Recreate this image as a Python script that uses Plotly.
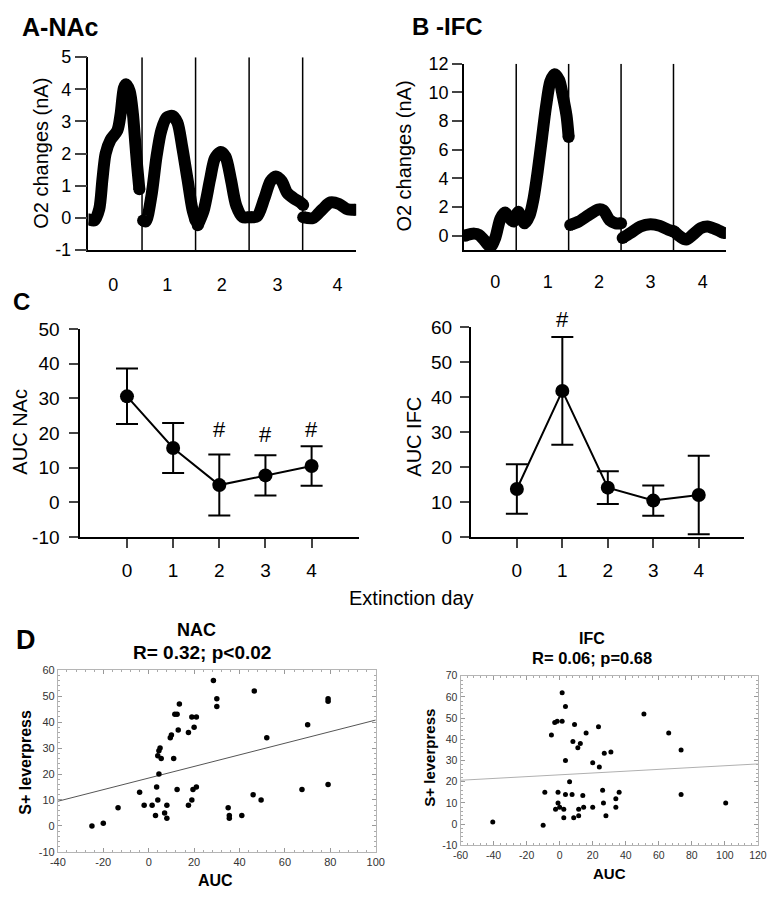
import plotly.graph_objects as go

W, H = 776, 899
FONT = "Arial, Liberation Sans, sans-serif"

# ---------------- data ----------------
day_labels = ['0', '1', '2', '3', '4']
days = [0, 1, 2, 3, 4]
boundaries = [0.5, 1.5, 2.5, 3.5]

# Panel A: NAc O2 traces (one list per extinction day)
nac_x = [
    [-0.48, -0.39, -0.30, -0.24, -0.18, -0.09, 0.04, 0.10, 0.16, 0.20, 0.27, 0.33, 0.37, 0.41, 0.45],
    [0.52, 0.57, 0.675, 0.77, 0.86, 0.96, 1.07, 1.16, 1.25, 1.35, 1.44, 1.5],
    [1.54, 1.65, 1.77, 1.86, 1.97, 2.06, 2.16, 2.26, 2.38, 2.5],
    [2.53, 2.65, 2.78, 2.9, 3.0, 3.11, 3.21, 3.34, 3.46, 3.51],
    [3.51, 3.69, 3.87, 4.02, 4.18, 4.33, 4.48],
]
nac_y = [
    [-0.05, -0.08, 0.27, 1.19, 2.0, 2.42, 2.72, 3.23, 4.04, 4.16, 3.94, 3.23, 2.41, 1.6, 0.89],
    [-0.08, -0.11, 0.68, 1.9, 2.72, 3.12, 3.17, 2.97, 2.21, 1.19, 0.27, -0.08],
    [-0.23, 0.22, 1.19, 1.85, 2.05, 1.9, 1.19, 0.38, 0.02, 0.02],
    [0.02, 0.05, 0.58, 1.14, 1.29, 1.14, 0.78, 0.6, 0.48, 0.4],
    [0.02, -0.01, 0.27, 0.48, 0.43, 0.27, 0.25],
]

# Panel B: IFC O2 traces
ifc_x = [
    [-0.475, -0.30, -0.21, -0.11, 0.01, 0.10, 0.20, 0.29, 0.38, 0.45, 0.5],
    [0.5, 0.54, 0.60, 0.66, 0.756, 0.83, 0.91, 0.99, 1.07, 1.15, 1.23, 1.32, 1.39, 1.46, 1.5],
    [1.53, 1.69, 1.88, 2.06, 2.16, 2.28, 2.40, 2.5],
    [2.53, 2.68, 2.87, 3.06, 3.24, 3.4, 3.49],
    [3.51, 3.62, 3.74, 3.87, 4.02, 4.15, 4.3, 4.46],
]
ifc_y = [
    [0, 0.14, 0.05, -0.32, -0.77, -0.16, 1.2, 1.61, 1.2, 0.98, 1.43],
    [1.43, 1.66, 1.2, 0.86, 1.43, 2.57, 4.5, 6.77, 9.05, 10.75, 11.27, 10.86, 9.73, 8.36, 6.89],
    [0.75, 0.98, 1.43, 1.82, 1.77, 1.09, 0.86, 0.86],
    [-0.16, 0.18, 0.64, 0.8, 0.68, 0.41, 0.3],
    [0.3, -0.05, -0.27, 0.07, 0.52, 0.64, 0.45, 0.18],
]

# Panel C: AUC per extinction day (mean +/- error)
nac_auc = [30.6, 15.7, 5.0, 7.8, 10.5]
nac_err = [8.0, 7.2, 8.8, 5.8, 5.7]
ifc_auc = [13.8, 41.8, 14.2, 10.5, 12.1]
ifc_err = [7.05, 15.4, 4.7, 4.3, 11.2]
nac_sig_days = [2, 3, 4]
nac_sig_y = [21, 19.5, 21]
ifc_sig_days = [1]
ifc_sig_y = [62.2]

# Panel D: correlations AUC vs S+ leverpress
nac_corr_auc = [-25, -20, -13.5, -4, -2, 1.5, 3, 3.5, 4, 4.5, 4, 4.5, 5, 5.5, 7, 8, 8, 9.5, 10, 11,
                11.5, 12.5, 12.5, 13, 13.5, 17.5, 17.5, 19, 19, 19.5, 20, 21, 21, 28.5, 30, 30,
                46.5, 52, 70, 79, 79, 79, 67.5, 46, 49.5, 35, 35.5, 35.5, 41]
nac_corr_lp = [0, 1, 7, 13, 8, 8, 4, 15, 10, 20, 27, 29, 30, 26, 5, 3, 8, 34, 35, 26,
               43, 43, 14, 37, 47, 8, 36, 42, 10, 14, 38, 15, 42, 56, 49, 46,
               52, 34, 39, 49, 48, 16, 14, 12, 10, 7, 4, 3, 4]
nac_fit_x = [-40, 100]
nac_fit_y = [9.5, 40.8]

ifc_corr_auc = [-40.5, -10, -9, -5, -3, -1.5, 1.5, 1.5, 3.5, 9, 8, 12.5, 11, 16, 3.5, 6, -1, 3.5, 7.5, 14,
                -1, 0, -2.5, 2.5, 2.5, 8.5, 11.5, 14.5, 11.5, 20, 20, 23.5, 24, 26, 26.5, 27, 31,
                28, 34, 34, 36, 51, 66, 73.5, 73.5, 100.5]
ifc_corr_lp = [1, -0.5, 15, 42, 48, 48.5, 48.5, 62, 55.5, 47, 39, 38, 36, 43, 30, 20, 15, 14, 14, 13.5,
               10, 8, 7, 7, 3, 3, 7, 8, 4, 8, 29, 46, 27, 16, 10, 33.5, 34,
               4, 12, 8, 15, 52, 43, 35, 14, 10]
ifc_fit_x = [-60, 120]
ifc_fit_y = [20.7, 28.4]

# ---------------- layout helpers ----------------
def dx(a, b):
    return [a / W, b / W]

def dy(top, bottom):
    return [1 - bottom / H, 1 - top / H]

def px(x):
    return x / W

def py(y):
    return 1 - y / H

def ticks(lo, hi, step):
    vals = list(range(lo, hi + 1, step))
    return dict(tickvals=vals, ticktext=[str(v) for v in vals])

fig = go.Figure()

# Panel A & B traces
LW = 12
for axn, (XS, YS) in (('', (nac_x, nac_y)), ('2', (ifc_x, ifc_y))):
    for xs, ys in zip(XS, YS):
        fig.add_trace(go.Scatter(x=xs, y=ys, mode='lines',
                                 line=dict(color='black', width=LW, shape='spline', smoothing=0.8),
                                 xaxis='x' + axn, yaxis='y' + axn, showlegend=False, hoverinfo='skip'))
        fig.add_trace(go.Scatter(x=[xs[0], xs[-1]], y=[ys[0], ys[-1]], mode='markers',
                                 marker=dict(color='black', size=LW, line=dict(width=0)),
                                 xaxis='x' + axn, yaxis='y' + axn, showlegend=False, hoverinfo='skip'))

shapes = []
for b in boundaries:
    shapes.append(dict(type='line', xref='x', yref='y', x0=b, x1=b, y0=-1, y1=5,
                       line=dict(color='black', width=1.5)))
    shapes.append(dict(type='line', xref='x2', yref='y2', x0=b, x1=b, y0=-1, y1=12,
                       line=dict(color='black', width=1.5)))

# Panel C
fig.add_trace(go.Scatter(x=days, y=nac_auc, mode='lines+markers',
                         line=dict(color='black', width=2),
                         marker=dict(color='black', size=14),
                         error_y=dict(type='data', array=nac_err, color='black', thickness=2, width=11),
                         xaxis='x3', yaxis='y3', showlegend=False))
fig.add_trace(go.Scatter(x=days, y=ifc_auc, mode='lines+markers',
                         line=dict(color='black', width=2),
                         marker=dict(color='black', size=14),
                         error_y=dict(type='data', array=ifc_err, color='black', thickness=2, width=11),
                         xaxis='x4', yaxis='y4', showlegend=False))

# Panel D
fig.add_trace(go.Scatter(x=nac_fit_x, y=nac_fit_y, mode='lines', line=dict(color='#555', width=1),
                         xaxis='x5', yaxis='y5', showlegend=False))
fig.add_trace(go.Scatter(x=nac_corr_auc, y=nac_corr_lp, mode='markers',
                         marker=dict(color='black', size=5.5),
                         xaxis='x5', yaxis='y5', showlegend=False))
fig.add_trace(go.Scatter(x=ifc_fit_x, y=ifc_fit_y, mode='lines', line=dict(color='#b0b0b0', width=1),
                         xaxis='x6', yaxis='y6', showlegend=False))
fig.add_trace(go.Scatter(x=ifc_corr_auc, y=ifc_corr_lp, mode='markers',
                         marker=dict(color='black', size=5),
                         xaxis='x6', yaxis='y6', showlegend=False))

tick18 = dict(family=FONT, size=18, color='black')
tick19 = dict(family=FONT, size=19, color='black')

common = dict(showgrid=False, zeroline=False)

C_RIGHT_YDOM = dy(324.7, 540)
C_RIGHT_YRANGE = [0, 60]

layout = dict(
    width=W, height=H, margin=dict(l=0, r=0, t=0, b=0),
    paper_bgcolor='white', plot_bgcolor='white', showlegend=False,
    font=dict(family=FONT, color='black'),
    shapes=shapes,
    # Panel A
    xaxis=dict(domain=dx(82.3, 356), range=[-0.5, 4.5], showline=True, linecolor='black', linewidth=1.5,
               tickvals=[-0.04, 0.97, 1.99, 3.03, 4.15], ticktext=day_labels, ticks='outside',
               ticklen=18, tickcolor='rgba(0,0,0,0)', tickfont=tick18, anchor='y', **common),
    yaxis=dict(domain=dy(48.3, 245.7), range=[-1, 5], **ticks(-1, 5, 1), showline=True, linecolor='black',
               linewidth=1.5, ticks='outside', ticklen=12, tickwidth=1.5, tickfont=tick18, anchor='x', **common),
    # Panel B
    xaxis2=dict(domain=dx(466, 734), range=[-0.5, 4.5], showline=True, linecolor='black', linewidth=1.5,
                tickvals=[0.1, 1.1, 2.08, 3.06, 4.06], ticktext=day_labels, ticks='outside',
                ticklen=15, tickcolor='rgba(0,0,0,0)', tickfont=tick18, anchor='y2', **common),
    yaxis2=dict(domain=dy(55, 245.7), range=[-1, 12], **ticks(0, 12, 2), showline=True,
                linecolor='black', linewidth=1.5, ticks='outside', ticklen=10, tickwidth=1.5,
                tickfont=tick18, anchor='x2', **common),
    # Panel C left
    xaxis3=dict(domain=dx(74, 359), range=[-1.01, 5.03], tickvals=days, ticktext=day_labels,
                showline=True, linecolor='black', linewidth=2, ticks='outside', ticklen=9, tickwidth=2,
                tickfont=tick19, ticklabelstandoff=6, anchor='y3', **common),
    yaxis3=dict(domain=dy(326.7, 539.7), range=[-10, 50], **ticks(-10, 50, 10), showline=True,
                linecolor='black', linewidth=2, ticks='outside', ticklen=9, tickwidth=2, tickfont=tick19,
                ticklabelstandoff=6, anchor='x3', **common),
    # Panel C right
    xaxis4=dict(domain=dx(473.3, 752.7), range=[-1.01, 5.0], tickvals=days, ticktext=day_labels,
                showline=True, linecolor='black', linewidth=2, ticks='outside', ticklen=9, tickwidth=2,
                tickfont=tick19, ticklabelstandoff=6, anchor='y4', **common),
    yaxis4=dict(domain=C_RIGHT_YDOM, range=C_RIGHT_YRANGE, **ticks(0, 60, 10), showline=True,
                linecolor='black', linewidth=2, ticks='outside', ticklen=9, tickwidth=2, tickfont=tick19,
                ticklabelstandoff=4, anchor='x4', **common),
)

def scatter_axes(xr, xd, yr, yd, xdom, ydom, n, size):
    tf = dict(family=FONT, size=size, color='#333')
    xa = dict(domain=xdom, range=xr, **ticks(xr[0], xr[1], xd), showline=True, mirror='ticks',
              linecolor='#b5b5b5', linewidth=1, ticks='inside', ticklen=4, tickcolor='#999', tickfont=tf,
              minor=dict(ticks='inside', ticklen=2, tickcolor='#aaa', dtick=xd / 5),
              anchor='y%d' % n, **common)
    ya = dict(domain=ydom, range=yr, **ticks(yr[0], yr[1], yd), showline=True, mirror='ticks',
              linecolor='#b5b5b5', linewidth=1, ticks='inside', ticklen=4, tickcolor='#999', tickfont=tf,
              minor=dict(ticks='inside', ticklen=2, tickcolor='#aaa', dtick=yd / 5),
              anchor='x%d' % n, **common)
    return xa, ya

layout['xaxis5'], layout['yaxis5'] = scatter_axes([-40, 100], 20, [-10, 60], 10,
                                                  dx(51, 376), dy(676, 862), 5, 11)
layout['xaxis6'], layout['yaxis6'] = scatter_axes([-60, 120], 20, [-10, 70], 10,
                                                  dx(462.7, 766.7), dy(681.7, 855.3), 6, 10.5)

fig.update_layout(**layout)

# significance marks
for d, yv in zip(nac_sig_days, nac_sig_y):
    fig.add_annotation(text='#', x=d, y=yv, xref='x3', yref='y3', showarrow=False,
                       font=dict(family=FONT, size=22, color='black'))
for d, yv in zip(ifc_sig_days, ifc_sig_y):
    # above the axis top: map the value through the y4 scale onto the paper
    frac = (yv - C_RIGHT_YRANGE[0]) / (C_RIGHT_YRANGE[1] - C_RIGHT_YRANGE[0])
    ypaper = C_RIGHT_YDOM[0] + frac * (C_RIGHT_YDOM[1] - C_RIGHT_YDOM[0])
    fig.add_annotation(text='#', x=d, y=ypaper, xref='x4', yref='paper', showarrow=False,
                       font=dict(family=FONT, size=22, color='black'))

def ann(text, x, y, size, bold=False, angle=0, xanchor='center', yanchor='middle', color='black'):
    t = '<b>%s</b>' % text if bold else text
    fig.add_annotation(text=t, x=px(x), y=py(y), xref='paper', yref='paper', showarrow=False,
                       xanchor=xanchor, yanchor=yanchor, textangle=angle,
                       font=dict(family=FONT, size=size, color=color))

# panel letters
ann('A-NAc', 12, 17, 25, bold=True, xanchor='left')
ann('B -IFC', 411, 17, 24, bold=True, xanchor='left')
ann('C', 3, 298, 24, bold=True, xanchor='left')
ann('D', 6, 645, 27, bold=True, xanchor='left')

# y titles A-C
ann('O2 changes (nA)', 33, 147, 20, angle=-90)
ann('O2 changes (nA)', 405, 150, 20, angle=-90)
ann('AUC NAc', 12, 432, 20, angle=-90)
ann('AUC IFC', 415, 437, 20, angle=-90)
ann('Extinction day', 413, 602, 20)

# Panel D titles
ann('NAC', 193, 635, 18, bold=True)
ann('R= 0.32; p<0.02', 198, 658, 19, bold=True)
ann('IFC', 597, 644, 16, bold=True)
ann('R= 0.06; p=0.68', 597, 664, 16.5, bold=True)
ann('S+ leverpress', 17, 770, 16, bold=True, angle=-90)
ann('AUC', 212, 891, 16, bold=True)
ann('S+ leverpress', 431, 766, 15, bold=True, angle=-90)
ann('AUC', 615, 884, 15, bold=True)

fig.write_html('out.html', config={'displayModeBar': False},
               post_script="document.body.style.margin='0';")
